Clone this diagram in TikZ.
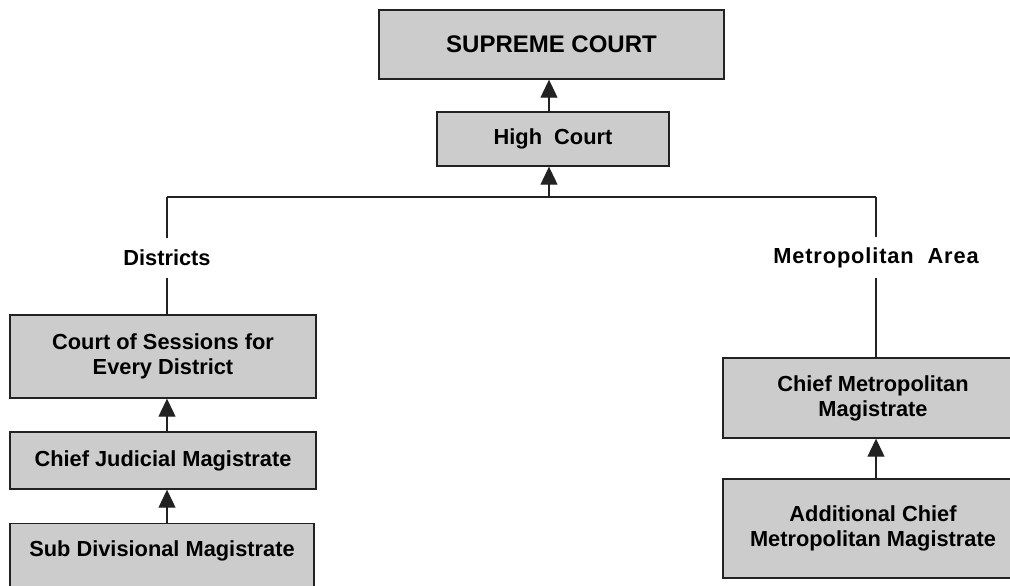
\documentclass[tikz,border=0pt]{standalone}
\usepackage{fontspec}
\setmainfont{Liberation Sans}
\usetikzlibrary{arrows.meta}
\definecolor{boxgray}{HTML}{CCCCCC}
\definecolor{edgegray}{HTML}{222222}
\begin{document}
\begin{tikzpicture}[x=1pt,y=-1pt,
  box/.style={draw=edgegray, line width=1.4pt, fill=boxgray, inner sep=0pt,
    align=center, font=\bfseries\fontsize{21.8}{25}\selectfont},
  lbl/.style={inner sep=0pt, minimum height=40pt,
    font=\bfseries\fontsize{21.8}{25}\selectfont},
  link/.style={line width=1.1pt, draw=edgegray},
  up/.style={link, -{Triangle[length=18pt,width=17pt]}}]
\useasboundingbox (0,0) rectangle (1010,586);
\clip (0,0) rectangle (1010,586);

% top of the hierarchy
\node[box, minimum width=345pt, minimum height=69pt,
  font=\bfseries\fontsize{24}{28}\selectfont] (sc) at (551.5,44.5) {SUPREME COURT};
\node[box, minimum width=232pt, minimum height=54pt] (hc) at (553,139) {High\ \ Court};

% branch points
\coordinate (hub) at (549,197);
\coordinate (jL) at (167,197);
\coordinate (jR) at (876,197);

% branch labels
\node[lbl] (dist) at (167,258) {Districts};
\node[lbl] (metro) at (876,257.5) {\addfontfeature{LetterSpace=4}Metropolitan\ \ Area};

% district courts
\node[box, minimum width=306pt, minimum height=83pt] (cs) at (163,356.5)
  {Court of Sessions for\\Every District};
\node[box, minimum width=306pt, minimum height=57pt] (cjm) at (163,460.5)
  {Chief Judicial Magistrate};
\node[box, anchor=north, minimum width=304pt, text height=24pt, text depth=35pt,
  inner ysep=9pt] (sdm) at (162,523) {Sub Divisional Magistrate};

% metropolitan courts
\node[box, minimum width=300pt, minimum height=80pt] (cmm) at (873,398)
  {Chief Metropolitan\\Magistrate};
\node[box, minimum width=300pt, minimum height=99pt] (acmm) at (873,528.5)
  {Additional Chief\\Metropolitan Magistrate};

% connectors
\draw[up] (hc.north -| hub) -- (sc.south -| hub);
\draw[up] (hub) -- (hc.south -| hub);
\draw[link] (jL) -- (jR);
\draw[link] (jL) -- (dist.north);
\draw[link] (dist.south) -- (cs.north -| dist);
\draw[link] (jR) -- (metro.north);
\draw[link] (metro.south) -- (cmm.north -| metro);
\draw[up] (cjm.north -| jL) -- (cs.south -| jL);
\draw[up] (sdm.north -| jL) -- (cjm.south -| jL);
\draw[up] (acmm.north -| jR) -- (cmm.south -| jR);
\end{tikzpicture}
\end{document}
